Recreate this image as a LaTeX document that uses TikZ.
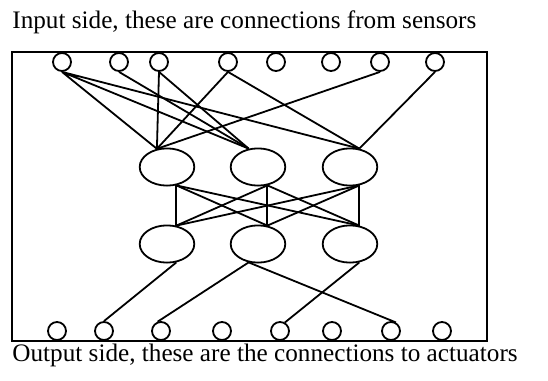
\documentclass[tikz,border=0pt]{standalone}
\usepackage{fontspec}
\setmainfont{Liberation Serif}
\usetikzlibrary{shapes.geometric}
\tikzset{
  sens/.style={draw, circle, minimum size=9pt, inner sep=0pt, line width=0.9pt},
  unit/.style={draw, ellipse, minimum width=27.3pt, minimum height=18.6pt, inner sep=0pt, line width=0.9pt},
  wire/.style={line width=0.9pt},
  frame/.style={line width=1pt},
  caption/.style={anchor=base west, inner sep=0pt, font=\fontsize{12.6}{14}\selectfont},
}

\begin{document}
\begin{tikzpicture}[x=0.5pt,y=-0.5pt]
\useasboundingbox (0,0) rectangle (548,381);
\draw[frame] (12,52) rectangle (487,341);
\node[caption] (intxt) at (12,28) {Input side, these are connections from sensors};
\node[caption] (outtxt) at (12,361) {Output side, these are the connections to actuators};
% sensor and actuator terminals
\foreach \x [count=\i] in {62,119,159,228,276,331,380,435} \node[sens] (in\i) at (\x,62) {};
\foreach \x [count=\i] in {57,104,161,222,280,332,391,442} \node[sens] (out\i) at (\x,331) {};
% two layers of units
\foreach \x [count=\i] in {167,258,350}{
  \node[unit] (a\i) at (\x,167) {};
  \node[unit] (b\i) at (\x,244) {};
}
% sensors -> first layer
\draw[wire] (in1.south) -- (a1.119) (in1.south) -- (a2.117) (in1.south) -- (a3.63);
\draw[wire] (in2.south) -- (a2.117);
\draw[wire] (in3.south) -- (a1.119) (in3.south) -- (a2.117);
\draw[wire] (in4.south) -- (a1.119) (in4.south) -- (a3.63);
\draw[wire] (in7.south) -- (a1.119);
\draw[wire] (in8.south) -- (a3.63);
% first layer -> second layer, all pairs
\foreach \i in {1,2,3}
  \foreach \j in {1,2,3}
    \draw[wire] (a\i.-63) -- (b\j.63);
% second layer -> actuators
\draw[wire] (b1.-63) -- (out2.north);
\draw[wire] (b2.-117) -- (out3.110) (b2.-117) -- (out7.60);
\draw[wire] (b3.-63) -- (out5.60);
\end{tikzpicture}
\end{document}
